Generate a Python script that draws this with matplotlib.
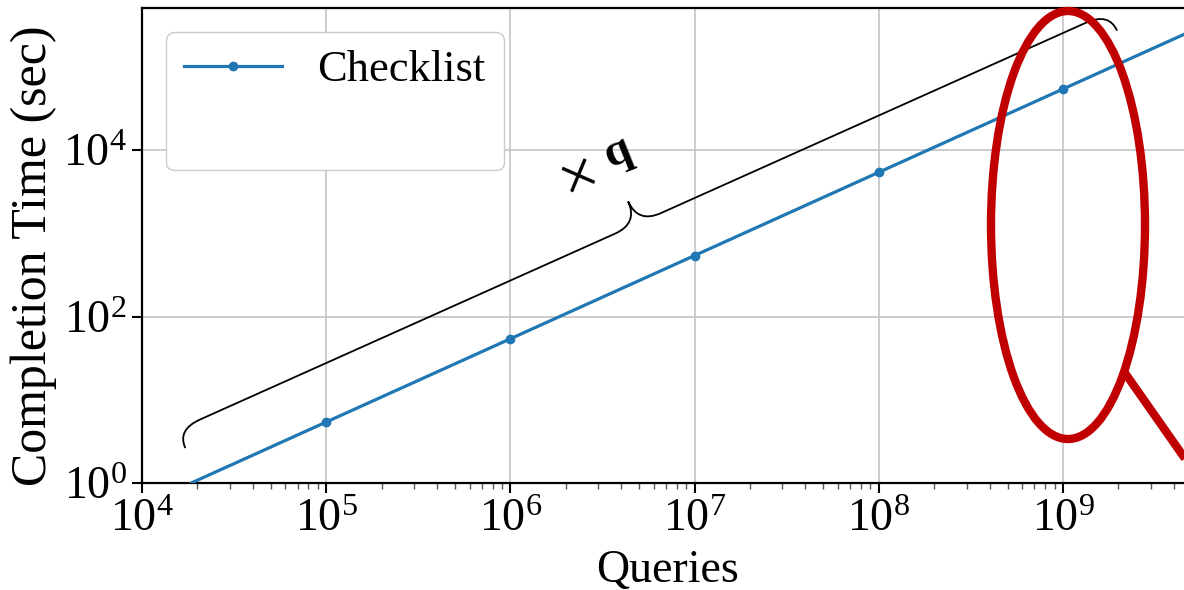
import numpy as np
import matplotlib
matplotlib.use("Agg")
import matplotlib.pyplot as plt
from matplotlib.path import Path
from matplotlib.patches import PathPatch, Ellipse
from matplotlib.lines import Line2D

plt.rcParams['font.family'] = ['Liberation Serif', 'DejaVu Serif']
plt.rcParams['mathtext.fontset'] = 'custom'
plt.rcParams['mathtext.rm'] = 'Liberation Serif'
plt.rcParams['mathtext.it'] = 'Liberation Serif:italic'
plt.rcParams['mathtext.bf'] = 'Liberation Serif:bold'

# ---- data ----
queries = [1.85e4, 1e5, 1e6, 1e7, 1e8, 1e9, 4.54e9]
completion_time = [1.0, 5.4, 54, 540, 5400, 54000, 2.45e5]
marker_idx = [1, 2, 3, 4, 5]
series_label = "Checklist"
x_ticks = [1e4, 1e5, 1e6, 1e7, 1e8, 1e9]
x_ticklabels = [r"$10^{4}$", r"$10^{5}$", r"$10^{6}$", r"$10^{7}$", r"$10^{8}$", r"$10^{9}$"]
y_ticks = [1, 1e2, 1e4]
y_ticklabels = [r"$10^{0}$", r"$10^{2}$", r"$10^{4}$"]

W, H = 1184, 590
fig = plt.figure(figsize=(W / 100, H / 100), dpi=100)
ax_left, ax_bottom, ax_top = 142 / W, 1 - 483 / H, 1 - 8 / H
ax = fig.add_axes([ax_left, ax_bottom, 1.0 - ax_left, ax_top - ax_bottom])

ax.set_xscale('log')
ax.set_yscale('log')
ax.set_xlim(1e4, 4.54e9)
ax.set_ylim(1, 5.08e5)

ax.plot(queries, completion_time, color='#1f77b4', lw=2.3, marker='o', ms=6,
        markevery=marker_idx, label=series_label, zorder=3)

ax.set_xticks(x_ticks)
ax.set_xticklabels(x_ticklabels)
ax.set_yticks(y_ticks)
ax.set_yticklabels(y_ticklabels)
ax.yaxis.set_minor_locator(matplotlib.ticker.NullLocator())
ax.xaxis.set_minor_locator(matplotlib.ticker.LogLocator(base=10, subs=np.arange(2, 10)))
ax.xaxis.set_minor_formatter(matplotlib.ticker.NullFormatter())

ax.tick_params(axis='both', which='major', labelsize=33, length=7, width=1.5, direction='out', pad=4)
ax.tick_params(axis='x', which='minor', length=4, width=1.0, color='#555555')

ax.grid(True, which='major', color='#c4c4c4', lw=1.2)
ax.set_axisbelow(True)
for s in ['left', 'bottom', 'top']:
    ax.spines[s].set_linewidth(1.6)
ax.spines['right'].set_visible(False)

ax.set_xlabel("Queries", fontsize=33)
ax.xaxis.set_label_coords(0.504, -0.140)
ax.set_ylabel("Completion Time (sec)", fontsize=36)
ax.yaxis.set_label_coords(-0.082, 0.478)

blank = Line2D([], [], color='none')
h, l = ax.get_legend_handles_labels()
leg = ax.legend(h + [blank], l + [" "], loc='upper left', fontsize=32, handlelength=2.2,
                framealpha=1, edgecolor='#cccccc', fancybox=True, borderaxespad=0.55)

# ---- annotations in pixel space of the figure ----
def P(x, y):
    return (x / W, 1 - y / H)

A = np.array([199.0, 420.0])
d = np.array([864.0, -387.0]); d /= np.linalg.norm(d)
n = np.array([0.4088, 0.9126])

def loc(t, s):
    p = A + t * d + s * n
    return P(p[0], p[1])

r = 25
t0, tm, t1 = -24, 481, 997
verts = [loc(t0, 20), loc(t0, 0), loc(t0 + r, 0),
         loc(tm - r, 0), loc(tm, 0), loc(tm, -24),
         loc(tm, 0), loc(tm + r, 0),
         loc(t1 - r, 0), loc(t1, 0), loc(t1, 20)]
codes = [Path.MOVETO, Path.CURVE3, Path.CURVE3,
         Path.LINETO, Path.CURVE3, Path.CURVE3,
         Path.CURVE3, Path.CURVE3,
         Path.LINETO, Path.CURVE3, Path.CURVE3]
brace = PathPatch(Path(verts, codes), transform=fig.transFigure, fill=False,
                  lw=1.3, color='black', zorder=5)
fig.patches.append(brace)

fig.text(*P(580, 179), "×", fontsize=48, rotation=22,
         ha='center', va='center', rotation_mode='anchor')
fig.text(*P(617, 153), "q", fontsize=34, fontweight='bold', rotation=22,
         ha='center', va='center', rotation_mode='anchor')

# red highlight ellipse and connector
cx, cy = 1068, 225
ell = Ellipse(P(cx, cy), width=154 / W, height=428 / H, transform=fig.transFigure,
              fill=False, edgecolor='#c00000', lw=6, zorder=6)
fig.patches.append(ell)
fig.lines.append(Line2D([1125 / W, 1200 / W], [1 - 373 / H, 1 - 480 / H],
                        transform=fig.transFigure, color='#c00000', lw=6,
                        solid_capstyle='butt', zorder=6))

fig.savefig("out.png", dpi=100)
